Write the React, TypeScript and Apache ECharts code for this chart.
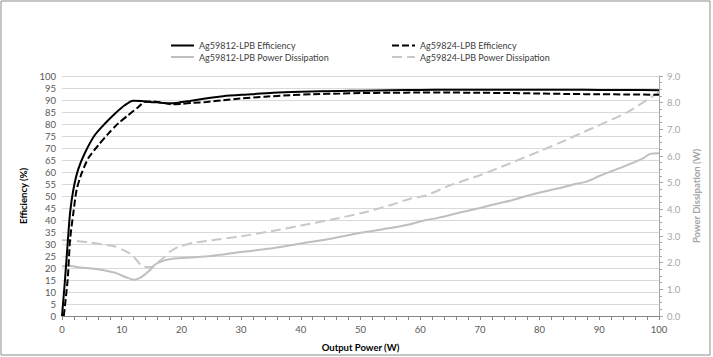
import React, { useEffect, useRef } from "react";
import * as echarts from "echarts";

const xEffA = [0, 0.5, 1, 1.35, 1.9, 2.7, 3.85, 5.5, 7.2, 8.9, 10.5, 11.9, 13.3, 14.7, 16.5, 18, 19.5, 21.4, 24, 27, 31, 35.4, 40, 46.6, 50, 55, 60, 65, 70, 75, 80, 85, 90, 95, 100];
const effA = [0, 15, 32, 43, 52.6, 61, 68, 75.4, 80.2, 84.4, 87.8, 89.7, 89.6, 89.2, 88.9, 88.6, 88.9, 89.6, 90.6, 91.6, 92.3, 93, 93.4, 93.8, 93.9, 94.1, 94.2, 94.3, 94.3, 94.3, 94.3, 94.3, 94.2, 94.2, 94.1];

const xEffB = [0.3, 0.95, 1.35, 1.9, 2.45, 3.3, 4.4, 6.1, 7.8, 9.4, 11.1, 12.8, 13.9, 15, 16.5, 18.6, 20, 22, 24.2, 27, 29.8, 34, 38.2, 42, 46.6, 50, 55, 60, 65, 70, 75, 80, 85, 90, 95, 100];
const effB = [0, 15.2, 31.8, 42.9, 52.6, 59.5, 65.7, 71.2, 76.1, 80.2, 83.7, 87.1, 89.3, 89.4, 89, 88.2, 88.4, 88.8, 89.2, 89.9, 90.6, 91.4, 92, 92.4, 92.7, 92.9, 93.0, 93.1, 93.1, 93.0, 92.9, 92.7, 92.5, 92.4, 92.3, 92.2];

const xPdA = [0, 1, 3, 5.5, 8.9, 10, 11.1, 12.2, 13, 13.9, 15, 15.6, 16.5, 17.8, 20.3, 25, 30, 35, 40, 45, 50, 55, 58.3, 61, 63, 66.7, 70, 72.3, 75, 77.8, 80, 83, 86, 88, 90, 92.3, 94.6, 97.4, 98.5, 100];
const pdA = [1.87, 1.88, 1.82, 1.77, 1.62, 1.52, 1.42, 1.36, 1.42, 1.56, 1.78, 1.93, 2.03, 2.12, 2.18, 2.25, 2.4, 2.53, 2.72, 2.9, 3.12, 3.3, 3.44, 3.6, 3.68, 3.88, 4.05, 4.18, 4.32, 4.5, 4.63, 4.78, 4.95, 5.05, 5.25, 5.45, 5.65, 5.92, 6.08, 6.1];

const xPdB = [0, 1, 4.4, 8.9, 10, 11.7, 12.5, 13.4, 15, 16, 17.3, 18, 19.5, 20, 22, 25, 30, 35, 40, 45, 50, 55.5, 58.3, 61, 65, 70, 75, 80, 83.4, 89, 94.6, 99, 100];
const pdB = [2.84, 2.84, 2.76, 2.61, 2.5, 2.3, 2.1, 1.87, 1.84, 2.0, 2.24, 2.4, 2.6, 2.63, 2.75, 2.84, 2.99, 3.18, 3.39, 3.61, 3.85, 4.19, 4.4, 4.52, 4.9, 5.28, 5.72, 6.18, 6.5, 7.06, 7.63, 8.25, 8.4];

const names = [
  "Ag59812-LPB Efficiency",
  "Ag59812-LPB Power Dissipation",
  "Ag59824-LPB Efficiency",
  "Ag59824-LPB Power Dissipation",
];

const zip = (xs: number[], ys: number[]) => xs.map((x, i) => [x, ys[i]]);

const FONT = "Lato";

export default function App() {
  const ref = useRef<HTMLDivElement>(null);
  useEffect(() => {
    if (!ref.current) return;
    const chart = echarts.init(ref.current, null, { renderer: "svg" });
    const legendCommon = {
      top: 41,
      padding: 0,
      orient: "vertical",
      itemGap: 2.5,
      itemWidth: 23,
      itemHeight: 10,
      itemStyle: { opacity: 0 },
      textStyle: { fontSize: 9, color: "#404040", fontFamily: FONT },
    };
    chart.setOption({
      animation: false,
      textStyle: { fontFamily: FONT },
      graphic: [
        {
          type: "rect",
          shape: { x: 1, y: 1, width: 709, height: 354 },
          style: { fill: "none", stroke: "#8c8c8c", lineWidth: 1 },
          silent: true,
        },
      ],
      legend: [
        { ...legendCommon, left: 170, data: [names[0], names[1]] },
        { ...legendCommon, left: 391, data: [names[2], names[3]] },
      ],
      grid: { left: 62, right: 54, top: 76, bottom: 40, containLabel: false },
      xAxis: {
        type: "value",
        min: 0,
        max: 100,
        interval: 10,
        name: "Output Power (W)",
        nameLocation: "middle",
        nameGap: 26,
        nameTextStyle: { fontWeight: "bold", fontSize: 9.5, color: "#000", fontFamily: FONT },
        axisLine: { show: true, lineStyle: { color: "#868686", width: 1 } },
        axisTick: { show: true, length: 4, lineStyle: { color: "#868686" } },
        minorTick: { show: true, splitNumber: 5, length: 4, lineStyle: { color: "#868686" } },
        axisLabel: { color: "#595959", fontSize: 9.5, margin: 8, fontFamily: FONT },
        splitLine: { show: false },
      },
      yAxis: [
        {
          type: "value",
          min: 0,
          max: 100,
          interval: 5,
          name: "Efficiency (%)",
          nameLocation: "middle",
          nameRotate: 90,
          nameGap: 27,
          nameTextStyle: { fontWeight: "bold", fontSize: 9.5, color: "#000", fontFamily: FONT },
          axisLine: { show: false },
          axisTick: { show: false },
          axisLabel: { color: "#595959", fontSize: 9.5, margin: 6, fontFamily: FONT },
          splitLine: { show: true, lineStyle: { color: "#d9d9d9", width: 1 } },
        },
        {
          type: "value",
          min: 0,
          max: 9,
          interval: 1,
          position: "right",
          name: "Power Dissipation (W)",
          nameLocation: "middle",
          nameRotate: 90,
          nameGap: 30,
          nameTextStyle: { fontWeight: "bold", fontSize: 9.5, color: "#a6a6a6", fontFamily: FONT },
          axisLine: { show: true, lineStyle: { color: "#a6a6a6", width: 1 } },
          axisTick: { show: true, length: 4, lineStyle: { color: "#a6a6a6" } },
          minorTick: { show: true, splitNumber: 4, length: 3, lineStyle: { color: "#a6a6a6" } },
          axisLabel: {
            color: "#a6a6a6",
            fontSize: 9.5,
            margin: 8,
            fontFamily: FONT,
            formatter: (v: number) => v.toFixed(1),
          },
          splitLine: { show: false },
        },
      ],
      series: [
        {
          name: names[0],
          type: "line",
          data: zip(xEffA, effA),
          yAxisIndex: 0,
          showSymbol: false,
          symbol: "none",
          smooth: 0.25,
          lineStyle: { color: "#000", width: 2 },
          itemStyle: { color: "#000" },
          z: 5,
        },
        {
          name: names[1],
          type: "line",
          data: zip(xPdA, pdA),
          yAxisIndex: 1,
          showSymbol: false,
          symbol: "none",
          smooth: 0.25,
          lineStyle: { color: "#bfbfbf", width: 2 },
          itemStyle: { color: "#bfbfbf" },
          z: 3,
        },
        {
          name: names[2],
          type: "line",
          data: zip(xEffB, effB),
          yAxisIndex: 0,
          showSymbol: false,
          symbol: "none",
          smooth: 0.25,
          lineStyle: { color: "#000", width: 2, type: [7, 3] },
          itemStyle: { color: "#000" },
          z: 4,
        },
        {
          name: names[3],
          type: "line",
          data: zip(xPdB, pdB),
          yAxisIndex: 1,
          showSymbol: false,
          symbol: "none",
          smooth: 0.25,
          lineStyle: { color: "#c8c8c8", width: 2, type: [10, 5] },
          itemStyle: { color: "#c8c8c8" },
          z: 2,
        },
      ],
    });
    return () => chart.dispose();
  }, []);
  return (
    <div
      ref={ref}
      style={{ position: "fixed", left: 0, top: 0, width: 713, height: 357, background: "#fff" }}
    />
  );
}
